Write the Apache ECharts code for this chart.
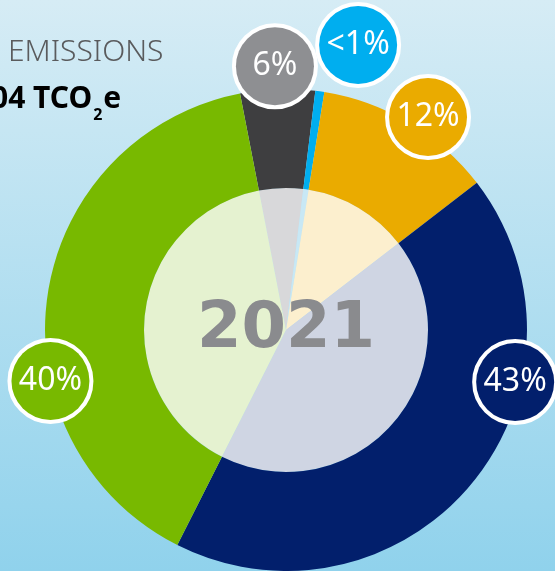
<!DOCTYPE html>
<html>
<head>
<meta charset="utf-8">
<script src="https://cdn.jsdelivr.net/npm/echarts@6/dist/echarts.min.js"></script>
<style>
	html, body { margin: 0; padding: 0; }
	#chartEmission { width: 555px; height: 571px; }
</style>
</head>
<body>
<div id="chartEmission"></div>
<script type="text/javascript">
	// slices, clockwise from just left of 12 o'clock
	var names = ['Grey', 'Blue', 'Orange', 'Navy', 'Green'];
	var values = [5.0, 0.6, 12.0, 42.9, 39.5];
	var labels = ['6%', '<1%', '12%', '43%', '40%'];

	var ringColors = ['#3e3e40', '#00aeef', '#eaab00', '#021f6c', '#78b900'];
	var innerColors = ['#d8d8da', '#c8e8f5', '#fcefce', '#cfd5e3', '#e5f2d0'];
	var badgeColors = ['#8e8f92', '#00aeef', '#eaab00', '#021f6c', '#78b900'];
	// where each badge sits: angle clockwise from top, distance from centre
	var badgeAngle = [-2.4, 14.2, 33.7, 102.8, 257.8];
	var badgeDist = [264, 294, 256, 235, 241];

	var cx = 286, cy = 330;

	var chartEmission = echarts.init(document.getElementById('chartEmission'));

	var ringData = names.map(function (n, i) {
		return {
			name: n,
			value: values[i],
			itemStyle: { color: ringColors[i] },
			label: {
				formatter: '{c|' + labels[i] + '}',
				rich: {
					c: {
						width: 78,
						height: 78,
						lineHeight: 78,
						align: 'center',
						backgroundColor: badgeColors[i],
						borderColor: '#fff',
						borderWidth: 4,
						borderRadius: 41,
						color: '#fff',
						fontSize: 32,
						fontFamily: 'Noto Sans'
					}
				}
			}
		};
	});
	var innerData = names.map(function (n, i) {
		return { name: n, value: values[i], itemStyle: { color: innerColors[i] } };
	});

	var option = {
		backgroundColor: {
			type: 'linear', x: 0, y: 0, x2: 0, y2: 1,
			colorStops: [
				{ offset: 0, color: '#d6ecf5' },
				{ offset: 1, color: '#90d2ec' }
			]
		},
		animation: false,
		series: [
			{
				name: 'inner',
				type: 'pie',
				center: [cx, cy],
				radius: [0, 142],
				startAngle: 101,
				silent: true,
				z: 1,
				label: { show: false },
				labelLine: { show: false },
				data: innerData
			},
			{
				name: 'ring',
				type: 'pie',
				center: [cx, cy],
				radius: [142, 241],
				startAngle: 101,
				silent: true,
				z: 2,
				avoidLabelOverlap: false,
				label: { show: true, position: 'outside' },
				labelLine: { show: false },
				labelLayout: function (params) {
					var i = params.dataIndex;
					var a = badgeAngle[i] * Math.PI / 180;
					return {
						x: cx + badgeDist[i] * Math.sin(a),
						y: cy - badgeDist[i] * Math.cos(a),
						align: 'center',
						verticalAlign: 'middle'
					};
				},
				data: ringData
			}
		],
		graphic: [
			{
				type: 'text', z: 100, x: 8, y: 52,
				style: {
					text: 'EMISSIONS', fill: '#5a5b5d',
					font: '300 30px "Noto Sans"',
					verticalAlign: 'middle'
				}
			},
			{
				type: 'text', z: 100, x: -9, y: 84,
				style: {
					text: '{m|04 TCO}{s|2}{m|e}',
					rich: {
						m: { fontSize: 30, fontWeight: 'bold', fontFamily: 'Noto Sans', color: '#12286c', lineHeight: 32, verticalAlign: 'top' },
						s: { fontSize: 16, fontWeight: 'bold', fontFamily: 'Noto Sans', color: '#12286c', lineHeight: 16, padding: [23, 1, 0, 1], verticalAlign: 'top' }
					}
				}
			},
			{
				type: 'text', z: 100, x: cx, y: cy,
				style: {
					text: '2021', fill: '#8a8b8e',
					font: 'bold 64px "DejaVu Sans"',
					align: 'center', verticalAlign: 'middle'
				}
			}
		]
	};
	chartEmission.setOption(option);
	window.onresize = function () {
		chartEmission.resize();
	};
</script>
</body>
</html>
